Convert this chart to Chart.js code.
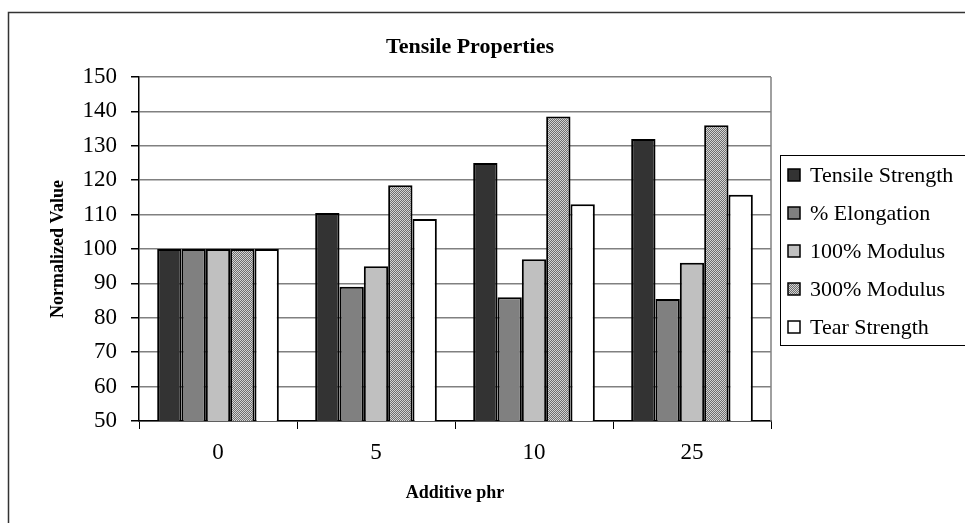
<!DOCTYPE html>
<html>
<head>
<meta charset="utf-8">
<script src="https://cdn.jsdelivr.net/npm/chart.js@4"></script>
<style>
  html, body { margin: 0; padding: 0; background: #fff; }
  #wrap { width: 965px; height: 523px; position: relative; }
</style>
</head>
<body>
<div id="wrap"><canvas id="tensile_chart"></canvas></div>
<script>
// categories (additive phr)
var categories = ['0', '5', '10', '25'];

// series values
var tensileStrength = [100, 110.5, 125, 132];
var elongation = [100, 89, 86, 85.5];
var modulus100 = [100, 95, 97, 96];
var modulus300 = [100, 118.5, 138.5, 136];
var tearStrength = [100, 108.7, 113, 115.8];

var seriesNames = ['Tensile Strength', '% Elongation', '100% Modulus', '300% Modulus', 'Tear Strength'];

// y axis ticks
var yMin = 50, yMax = 150, yStep = 10;

var serif = "'Liberation Serif', 'Times New Roman', serif";

// hatched fill for 300% Modulus
function makeHatch() {
  var c = document.createElement('canvas');
  c.width = 4; c.height = 4;
  var g = c.getContext('2d');
  g.fillStyle = '#d4d4d4';
  g.fillRect(0, 0, 4, 4);
  g.fillStyle = '#6e6e6e';
  for (var i = 0; i < 4; i++) {
    g.fillRect(i, (3 - i), 1, 1);
    g.fillRect(i, (3 - i + 2) % 4, 1, 1);
  }
  return g.createPattern(c, 'repeat');
}
var hatch = makeHatch();

var fills = ['#333333', '#808080', '#c0c0c0', hatch, '#ffffff'];
var values = [tensileStrength, elongation, modulus100, modulus300, tearStrength];

var datasets = [];
for (var i = 0; i < values.length; i++) {
  datasets.push({
    label: seriesNames[i],
    data: values[i],
    backgroundColor: fills[i],
    borderColor: '#000',
    borderWidth: 2,
    borderSkipped: false
  });
}

// frame, plot border, title and boxed legend
var decorations = {
  id: 'decorations',
  beforeDatasetsDraw: function(chart) {
    var ctx = chart.ctx, a = chart.chartArea;
    ctx.save();
    ctx.strokeStyle = '#808080';
    ctx.lineWidth = 1.5;
    ctx.beginPath();
    ctx.moveTo(a.right, a.top);
    ctx.lineTo(a.right, a.bottom);
    ctx.stroke();
    ctx.restore();
  },
  afterDraw: function(chart) {
    var ctx = chart.ctx;
    ctx.save();
    // outer frame
    ctx.strokeStyle = '#333';
    ctx.lineWidth = 1.5;
    ctx.strokeRect(8.5, 12.5, 1100, 700);

    // title
    ctx.fillStyle = '#000';
    ctx.font = 'bold 22px ' + serif;
    ctx.textAlign = 'center';
    ctx.textBaseline = 'middle';
    ctx.fillText('Tensile Properties', 470, 47);

    // legend box
    ctx.strokeStyle = '#000';
    ctx.lineWidth = 1;
    ctx.strokeRect(780.5, 155.5, 300, 190);
    ctx.font = '22px ' + serif;
    ctx.textAlign = 'left';
    var ds = chart.data.datasets;
    for (var i = 0; i < ds.length; i++) {
      var y = 175 + i * 38;
      ctx.fillStyle = ds[i].backgroundColor;
      ctx.fillRect(788, y - 6, 12, 12);
      ctx.strokeStyle = '#000';
      ctx.lineWidth = 1.5;
      ctx.strokeRect(788, y - 6, 12, 12);
      ctx.fillStyle = '#000';
      ctx.fillText(ds[i].label, 810, y + 1);
    }
    ctx.restore();
  }
};

var ctx = document.getElementById('tensile_chart');
var chart = new Chart(ctx, {
  type: 'bar',
  data: {
    labels: categories,
    datasets: datasets
  },
  options: {
    responsive: true,
    maintainAspectRatio: false,
    animation: false,
    layout: { padding: { left: 0, top: 77, right: 194, bottom: 0 } },
    datasets: {
      bar: { categoryPercentage: 0.77, barPercentage: 1.0 }
    },
    plugins: {
      legend: { display: false },
      title: { display: false },
      tooltip: { enabled: false }
    },
    scales: {
      x: {
        afterFit: function(scale) { scale.height = 102; },
        grid: {
          offset: true,
          drawOnChartArea: false,
          tickColor: '#000',
          tickLength: 8,
          lineWidth: 1
        },
        border: { color: '#000', width: 1.5 },
        ticks: {
          color: '#000',
          padding: 10,
          font: { family: serif, size: 23 }
        },
        title: {
          display: true,
          text: 'Additive phr',
          color: '#000',
          font: { family: serif, size: 18, weight: 'bold' },
          padding: { top: 0, bottom: 19 }
        }
      },
      y: {
        min: yMin,
        max: yMax,
        afterFit: function(scale) { scale.width = 139; },
        grid: {
          color: '#808080',
          tickColor: '#000',
          tickLength: 8,
          lineWidth: 1.5
        },
        border: { color: '#000', width: 1.5 },
        ticks: {
          stepSize: yStep,
          color: '#000',
          padding: 14,
          font: { family: serif, size: 23 }
        },
        title: {
          display: true,
          text: 'Normalized Value',
          color: '#000',
          font: { family: serif, size: 18, weight: 'bold' },
          padding: { top: 48, bottom: 0 }
        }
      }
    }
  },
  plugins: [decorations]
});
</script>
</body>
</html>
